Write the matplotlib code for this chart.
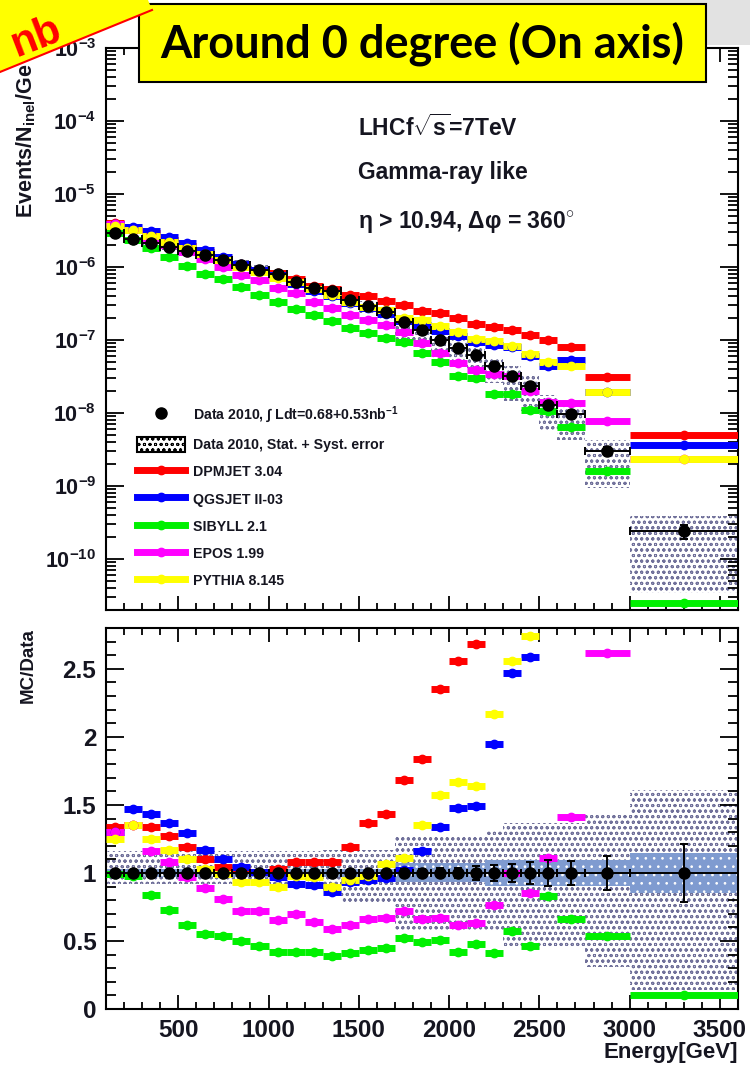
import numpy as np
import matplotlib
matplotlib.use('Agg')
import matplotlib.pyplot as plt
from matplotlib.ticker import LogLocator, FixedLocator, MultipleLocator, NullFormatter, FixedFormatter
from matplotlib.lines import Line2D
from matplotlib.patches import Patch, Polygon, Rectangle

plt.rcParams['font.family'] = ['Liberation Sans', 'DejaVu Sans']
plt.rcParams['font.weight'] = 'bold'
plt.rcParams['axes.labelweight'] = 'bold'
plt.rcParams['mathtext.fontset'] = 'custom'
plt.rcParams['mathtext.rm'] = 'Liberation Sans:bold'
plt.rcParams['mathtext.bf'] = 'Liberation Sans:bold'
plt.rcParams['mathtext.it'] = 'Liberation Sans:bold:italic'
plt.rcParams['mathtext.default'] = 'rm'
plt.rcParams['hatch.linewidth'] = 0.7

# ---------------- data ----------------
bin_edges = [100, 200, 300, 400, 500, 600, 700, 800, 900, 1000, 1100, 1200, 1300, 1400,
             1500, 1600, 1700, 1800, 1900, 2000, 2100, 2200, 2300, 2400, 2500, 2600,
             2750, 3000, 3600]

data_flux = [2.95e-6, 2.40e-6, 2.15e-6, 1.87e-6, 1.65e-6, 1.45e-6, 1.25e-6, 1.07e-6,
             9.1e-7, 7.9e-7, 6.3e-7, 5.15e-7, 4.65e-7, 3.5e-7, 2.88e-7, 2.38e-7,
             1.78e-7, 1.37e-7, 9.9e-8, 7.75e-8, 6.2e-8, 4.4e-8, 3.2e-8, 2.35e-8,
             1.29e-8, 9.6e-9, 3.0e-9, 2.4e-10]

stat_err = [0.010, 0.010, 0.010, 0.011, 0.012, 0.012, 0.013, 0.014, 0.015, 0.016,
            0.017, 0.018, 0.020, 0.021, 0.023, 0.025, 0.028, 0.030, 0.033, 0.036,
            0.052, 0.060, 0.065, 0.083, 0.095, 0.090, 0.128, 0.215]

syst_hi = [1.16, 1.16, 1.16, 1.16, 1.16, 1.16, 1.16, 1.16, 1.16, 1.16, 1.16, 1.16,
           1.17, 1.17, 1.17, 1.17, 1.27, 1.27, 1.27, 1.27, 1.27, 1.305, 1.365, 1.365,
           1.365, 1.365, 1.43, 1.61]
syst_lo = [0.92, 0.92, 0.92, 0.92, 0.92, 0.92, 0.92, 0.92, 0.92, 0.92, 0.92, 0.92,
           0.85, 0.79, 0.79, 0.79, 0.58, 0.58, 0.58, 0.58, 0.58, 0.58, 0.45, 0.45,
           0.45, 0.45, 0.31, 0.14]

blue_band = [0.03, 0.03, 0.03, 0.03, 0.03, 0.03, 0.03, 0.03, 0.03, 0.03, 0.03, 0.03,
             0.03, 0.03, 0.03, 0.03, 0.07, 0.07, 0.07, 0.07, 0.07, 0.095, 0.095, 0.095,
             0.095, 0.095, 0.095, 0.145]

# MC / Data ratios
dpmjet = [1.34, 1.35, 1.34, 1.27, 1.19, 1.10, 1.04, 1.02, 1.01, 1.03, 1.08, 1.08, 1.08,
          1.19, 1.37, 1.43, 1.68, 1.84, 2.35, 2.56, 2.68, 3.4, 4.3, 5.0, 7.8, 8.3, 10.3, 20.8]
qgsjet = [1.30, 1.47, 1.43, 1.37, 1.29, 1.17, 1.10, 1.04, 1.01, 0.97, 0.92, 0.91, 0.86,
          0.93, 0.95, 0.96, 1.02, 1.16, 1.34, 1.48, 1.49, 1.95, 2.47, 2.59, 3.4, 5.5, 6.5, 15.0]
sibyll = [0.99, 0.98, 0.84, 0.73, 0.62, 0.55, 0.54, 0.50, 0.46, 0.42, 0.42, 0.42, 0.39,
          0.41, 0.43, 0.45, 0.52, 0.49, 0.51, 0.42, 0.48, 0.41, 0.57, 0.46, 0.83, 0.66, 0.54, 0.103]
epos = [1.30, 1.35, 1.16, 1.08, 0.97, 0.89, 0.81, 0.72, 0.72, 0.655, 0.70, 0.64, 0.59,
        0.62, 0.66, 0.67, 0.72, 0.66, 0.67, 0.62, 0.63, 0.765, 1.0, 0.85, 1.11, 1.41, 2.615, 9.6]
pythia = [1.25, 1.35, 1.25, 1.17, 1.10, 1.03, 0.99, 0.93, 0.93, 0.90, 0.98, 0.97, 0.895,
          0.95, 0.98, 1.064, 1.11, 1.35, 1.57, 1.67, 1.64, 2.17, 2.56, 2.74, 3.9, 4.6, 6.5, 9.6]

model_names = ['DPMJET 3.04', 'QGSJET II-03', 'SIBYLL 2.1', 'EPOS 1.99', 'PYTHIA 8.145']
model_colors = ['#ff0000', '#0000ff', '#00f000', '#ff00ff', '#ffff00']
model_ratios = [dpmjet, qgsjet, sibyll, epos, pythia]

log_ticks = [1e-10, 1e-9, 1e-8, 1e-7, 1e-6, 1e-5, 1e-4, 1e-3]
log_tick_labels = [r'$10^{-10}$', r'$10^{-9}$', r'$10^{-8}$', r'$10^{-7}$',
                   r'$10^{-6}$', r'$10^{-5}$', r'$10^{-4}$', r'$10^{-3}$']
ratio_ticks = [0, 0.5, 1, 1.5, 2, 2.5]
ratio_tick_labels = ['0', '0.5', '1', '1.5', '2', '2.5']
energy_ticks = [500, 1000, 1500, 2000, 2500, 3000, 3500]
energy_tick_labels = ['500', '1000', '1500', '2000', '2500', '3000', '3500']

# ---------------- derived ----------------
edges = np.array(bin_edges, dtype=float)
centers = 0.5 * (edges[1:] + edges[:-1])
widths = edges[1:] - edges[:-1]
half = widths / 2
flux = np.array(data_flux)
stat = np.array(stat_err)
hi = np.array(syst_hi)
lo = np.array(syst_lo)
bband = np.array(blue_band)

TXT = '#151520'
HATCH_COL = '#70709a'

fig = plt.figure(figsize=(7.5, 10.74), dpi=100)
ax1 = fig.add_axes([106 / 750, 1 - 610 / 1074, 632 / 750, 562 / 1074])
ax2 = fig.add_axes([106 / 750, 1 - 1009 / 1074, 632 / 750, 381 / 1074])

# ---------------- top panel ----------------
ax1.set_yscale('log')
ax1.bar(centers, flux * (hi - lo), bottom=flux * lo, width=widths, fill=False,
        hatch='ooo', edgecolor=HATCH_COL, linewidth=0, zorder=1)
for r, c in zip(model_ratios, model_colors):
    ax1.errorbar(centers, flux * np.array(r), xerr=half, fmt='o', color=c, ms=6,
                 elinewidth=5, capsize=0, zorder=3)
ax1.errorbar(centers, flux, xerr=half, yerr=flux * stat, fmt='o', color='black', ms=8,
             elinewidth=1.4, capsize=3, capthick=1.4, zorder=5)

ax1.set_xlim(100, 3600)
ax1.set_ylim(10 ** -10.7, 1e-3)
ax1.yaxis.set_major_locator(FixedLocator(log_ticks))
ax1.yaxis.set_major_formatter(FixedFormatter(log_tick_labels))
ax1.yaxis.set_minor_locator(LogLocator(base=10, subs=np.arange(2, 10), numticks=100))
ax1.yaxis.set_minor_formatter(NullFormatter())
ax1.xaxis.set_major_locator(FixedLocator(energy_ticks))
ax1.xaxis.set_minor_locator(MultipleLocator(100))
ax1.set_xticklabels([])

ax1.set_ylabel('Events/N$_{inel}$/GeV', fontsize=15.5, loc='top', color=TXT)
ax1.yaxis.set_label_coords(-0.108, 1.0)

ax1.text(0.399, 0.858, r'LHCf$\sqrt{s}$=7TeV', transform=ax1.transAxes, fontsize=16.5,
         va='center', ha='left', color=TXT)
ax1.text(0.399, 0.779, 'Gamma-ray like', transform=ax1.transAxes, fontsize=16.5,
         va='center', ha='left', color=TXT)
ax1.text(0.399, 0.690, 'η > 10.94, Δφ = 360$^{\\circ}$', transform=ax1.transAxes,
         fontsize=16.5, va='center', ha='left', color=TXT)

handles = [Line2D([], [], ls='none', marker='o', color='black', ms=8),
           Patch(facecolor='white', edgecolor='black', hatch='ooo', lw=1.5)]
labels = [r'Data 2010, $\int$ Ldt=0.68+0.53nb$^{-1}$', 'Data 2010, Stat. + Syst. error']
for n, c in zip(model_names, model_colors):
    handles.append(Line2D([], [], color=c, lw=5, marker='o', ms=6))
    labels.append(n)
leg = ax1.legend(handles, labels, loc='upper left', bbox_to_anchor=(0.049, 0.366),
                 frameon=False, fontsize=10.2, handlelength=3.4, handleheight=1.25,
                 handletextpad=0.55, labelspacing=0.84, borderpad=0, borderaxespad=0)
for t in leg.get_texts():
    t.set_color(TXT)

# ---------------- bottom panel ----------------
ax2.bar(centers, hi - lo, bottom=lo, width=widths, fill=False, hatch='ooo',
        edgecolor=HATCH_COL, linewidth=0, zorder=1)
ax2.bar(centers, 2 * bband, bottom=1 - bband, width=widths, facecolor='#7f9bd0',
        hatch='..', edgecolor='white', linewidth=0, zorder=2)
for r, c in zip(model_ratios, model_colors):
    ax2.errorbar(centers, r, xerr=half, fmt='o', color=c, ms=6, elinewidth=5,
                 capsize=0, zorder=3)
ax2.errorbar(centers, np.ones_like(centers), xerr=half, yerr=stat, fmt='o', color='black',
             ms=8, elinewidth=1.4, capsize=3, capthick=1.4, zorder=5)

ax2.set_xlim(100, 3600)
ax2.set_ylim(0, 2.8)
ax2.yaxis.set_major_locator(FixedLocator(ratio_ticks))
ax2.yaxis.set_major_formatter(FixedFormatter(ratio_tick_labels))
ax2.yaxis.set_minor_locator(MultipleLocator(0.1))
ax2.xaxis.set_major_locator(FixedLocator(energy_ticks))
ax2.xaxis.set_major_formatter(FixedFormatter(energy_tick_labels))
ax2.xaxis.set_minor_locator(MultipleLocator(100))

ax2.set_ylabel('MC/Data', fontsize=13.5, loc='top', color=TXT)
ax2.yaxis.set_label_coords(-0.11, 1.0)
ax2.set_xlabel('Energy[GeV]', fontsize=16, loc='right', color=TXT)
ax2.xaxis.set_label_coords(1.0, -0.086)

for ax in (ax1, ax2):
    for s in ax.spines.values():
        s.set_linewidth(1.5)
    ax.tick_params(which='both', direction='in', top=True, right=True, width=1.3,
                   colors='black', labelcolor=TXT)
    ax.tick_params(axis='y', which='major', length=13, pad=7)
    ax.tick_params(axis='y', which='minor', length=7)
    ax.tick_params(axis='x', which='major', length=10, labelsize=17.5, pad=7)
    ax.tick_params(axis='x', which='minor', length=5)
ax1.tick_params(axis='y', which='major', labelsize=15.5)
ax2.tick_params(axis='y', which='major', labelsize=17.5)

# ---------------- slide decorations ----------------
fig.patches.append(Rectangle((430 / 750, 1 - 45 / 1074), 320 / 750, 45 / 1074,
                             transform=fig.transFigure, facecolor='#e2e2e2',
                             edgecolor='none', zorder=1))
fig.patches.append(Rectangle((139 / 750, 1 - 82 / 1074), 567 / 750, 78 / 1074,
                             transform=fig.transFigure, facecolor='#ffff00',
                             edgecolor='black', linewidth=1.5, zorder=2))
fig.text(422 / 750, 1 - 44 / 1074, 'Around 0 degree (On axis)', ha='center', va='center',
         fontsize=32.5, family=['Lato', 'DejaVu Sans'], weight='bold', color='black', zorder=4)

fig.patches.append(Polygon([(0, 1), (148 / 750, 1), (152 / 750, 1 - 10 / 1074),
                            (0, 1 - 72 / 1074)], closed=True, transform=fig.transFigure,
                           facecolor='#ffff00', edgecolor='none', zorder=5))
fig.lines.append(Line2D([0, 152 / 750], [1 - 72 / 1074, 1 - 10 / 1074],
                        transform=fig.transFigure, color='#ff0000', lw=1.5, zorder=6))
fig.text(16 / 750, 1 - 57 / 1074, 'nb', ha='left', va='baseline', rotation=21,
         rotation_mode='anchor', fontsize=30, weight='bold', color='#ff0000', zorder=7)

fig.savefig('out.png', dpi=100)
